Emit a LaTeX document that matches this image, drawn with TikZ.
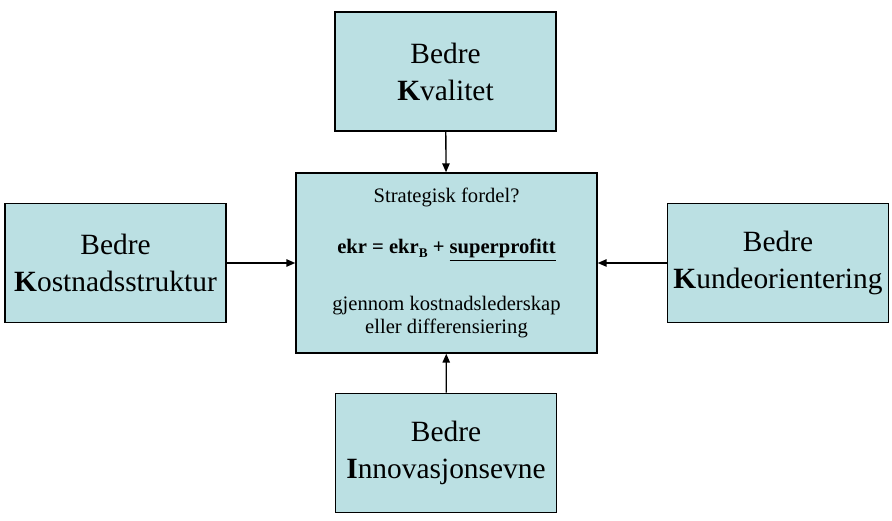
\documentclass[tikz,border=0pt]{standalone}
\usepackage{fontspec}
\setmainfont{Liberation Serif}
\usetikzlibrary{arrows.meta}
\definecolor{boxfill}{HTML}{BBE0E3}
\tikzset{
  faktor/.style={draw, line width=1pt, fill=boxfill, align=center, inner sep=0pt,
    minimum width=150pt, minimum height=81pt,
    font=\fontsize{20}{25.2}\selectfont},
  kjerne/.style={draw, line width=1pt, fill=boxfill, align=center, inner sep=0pt,
    minimum width=204.7pt, minimum height=122.4pt,
    font=\fontsize{14}{15.3}\selectfont},
  pil/.style={->, line width=0.9pt}
}
\begin{document}
\begin{tikzpicture}[x=0.68pt, y=-0.68pt, >={Triangle[length=6pt,width=5pt]}]
    \useasboundingbox (0,0) rectangle (892,521);
    \node[kjerne] (fordel) at (446.5,263) {Strategisk fordel?\\[19.4pt]
        \textbf{ekr = ekr{\fontsize{9}{9}\selectfont\raisebox{-2.5pt}{B}} + \underline{superprofitt}}\\[23.5pt]
        gjennom kostnadslederskap\\eller differensiering};
    \node[faktor] (kval) at (445.5,71.5) {Bedre\\\textbf{K}valitet};
    \node[faktor] (kost) at (115.5,263) {Bedre\\\textbf{K}ostnadsstruktur};
    \node[faktor] (kunde) at (778,263) {Bedre\\\textbf{K}undeorientering};
    \node[faktor] (innov) at (446,453) {Bedre\\\textbf{I}nnovasjonsevne};
    \draw[pil] (kval) -- (fordel);
    \draw[pil] (kost) -- (fordel);
    \draw[pil] (kunde) -- (fordel);
    \draw[pil] (innov) -- (fordel);
\end{tikzpicture}
\end{document}
